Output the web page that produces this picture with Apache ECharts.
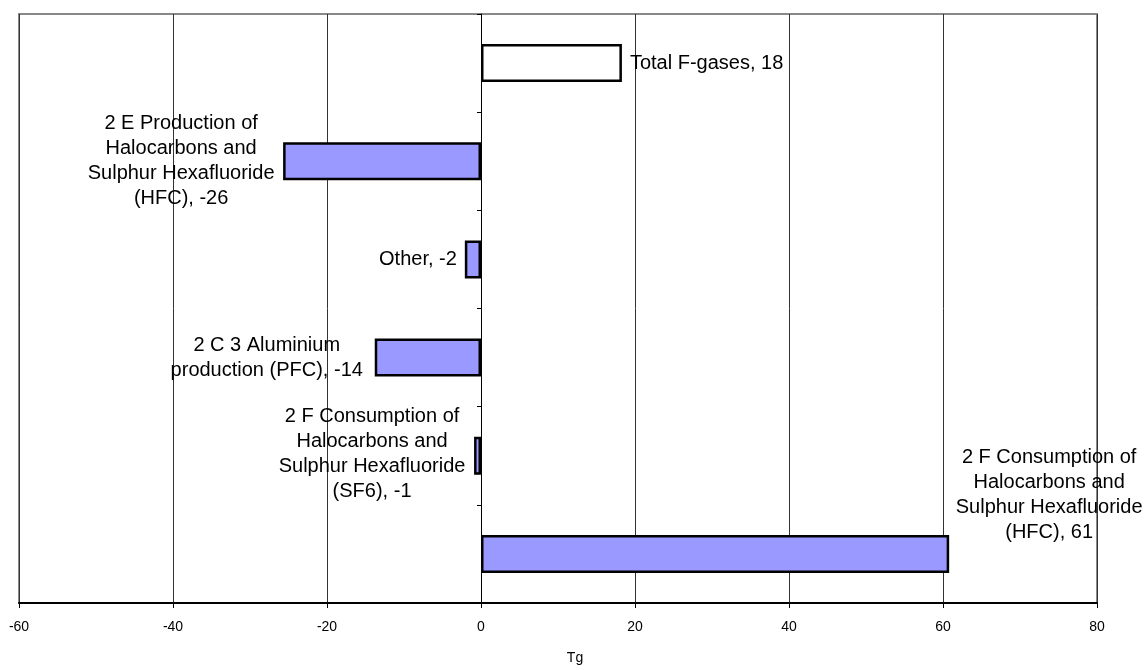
<!DOCTYPE html>
<html>
<head>
<meta charset="utf-8">
<script src="https://cdn.jsdelivr.net/npm/echarts@6/dist/echarts.min.js"></script>
<style>
html,body{margin:0;padding:0;background:#fff;}
#chart{width:1147px;height:670px;}
</style>
</head>
<body>
<div id="chart"></div>
<script>
// Categories (bottom to top as drawn)
const categories = [
  '2 F Consumption of\nHalocarbons and\nSulphur Hexafluoride\n(HFC)',
  '2 F Consumption of\nHalocarbons and\nSulphur Hexafluoride\n(SF6)',
  '2 C 3 Aluminium\nproduction (PFC)',
  'Other',
  '2 E Production of\nHalocarbons and\nSulphur Hexafluoride\n(HFC)',
  'Total F-gases'
];
// Values in Tg
const values = [60.8, -0.9, -13.8, -2.1, -25.7, 18.3];
// Axis
const xMin = -60, xMax = 80, xInterval = 20;
const axisName = 'Tg';

const fillBlue = '#9999FF';
const labelSpecs = [
  {position: 'right', align: 'center', verticalAlign: 'middle', distance: 0, offset: [100, -59]},
  {position: 'left', align: 'center', verticalAlign: 'middle', distance: 0, offset: [-102, -2]},
  {position: 'left', align: 'center', verticalAlign: 'middle', distance: 0, offset: [-108, 0]},
  {position: 'left', distance: 8},
  {position: 'left', align: 'center', verticalAlign: 'middle', distance: 0, offset: [-102, 0]},
  {position: 'right', distance: 8}
];

const data = values.map((v, i) => ({
  value: v,
  itemStyle: {color: i === values.length - 1 ? '#FFFFFF' : fillBlue},
  label: labelSpecs[i]
}));

const chart = echarts.init(document.getElementById('chart'), null, {renderer: 'canvas'});
chart.setOption({
  animation: false,
  backgroundColor: '#fff',
  textStyle: {fontFamily: 'Liberation Sans, Arial, sans-serif'},
  grid: {left: 19, right: 50, top: 14, bottom: 60, show: true, borderColor: '#888', borderWidth: 2, containLabel: false},
  xAxis: {
    type: 'value', min: xMin, max: xMax, interval: xInterval,
    name: axisName, nameLocation: 'middle', nameGap: 48,
    nameTextStyle: {color: '#000', fontSize: 14, fontFamily: 'Liberation Sans', padding: [0, 0, 0, 34]},
    axisLine: {show: true, onZero: false, lineStyle: {color: '#000', width: 2}},
    axisTick: {show: true, length: 5, lineStyle: {color: '#000'}},
    axisLabel: {color: '#000', fontSize: 14, margin: 17, fontFamily: 'Liberation Sans'},
    splitLine: {show: true, lineStyle: {color: '#333', width: 1}}
  },
  yAxis: {
    type: 'category', data: categories,
    axisLine: {show: true, onZero: true, lineStyle: {color: '#000', width: 1}},
    axisTick: {show: true, length: 4, lineStyle: {color: '#000'}},
    axisLabel: {show: false},
    splitLine: {show: false}
  },
  series: [{
    type: 'bar',
    data: data,
    barWidth: 38,
    itemStyle: {borderColor: '#000', borderWidth: 2.5},
    label: {
      show: true,
      color: '#000',
      fontSize: 20,
      lineHeight: 25,
      fontFamily: 'Liberation Sans',
      formatter: p => p.name + ', ' + Math.round(p.value)
    }
  }]
});
</script>
</body>
</html>
